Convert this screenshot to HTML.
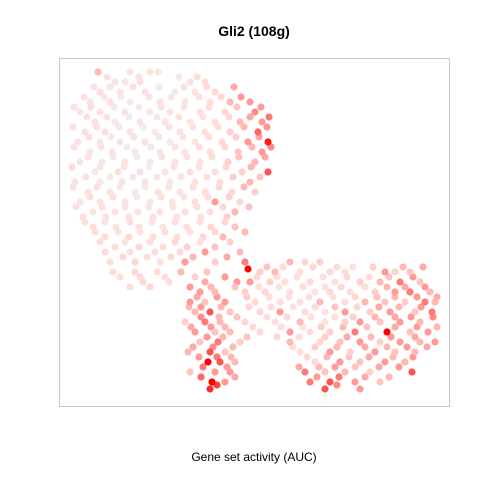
<!DOCTYPE html>
<html><head><meta charset="utf-8"><style>
body{margin:0;background:#fff;font-family:"Liberation Sans",sans-serif}
svg{display:block}
</style></head><body>
<svg id="chart" width="480" height="480">
<rect x="0" y="0" width="480" height="480" fill="#fff"/>
<text x="254" y="36" text-anchor="middle" font-size="14" font-weight="bold" fill="#000">Gli2 (108g)</text>
<rect x="59.5" y="58.5" width="390" height="348" fill="none" stroke="#c8c8c8" stroke-width="1"/>
<g id="pts"></g>
<text x="254" y="461" text-anchor="middle" font-size="12" fill="#000">Gene set activity (AUC)</text>
</svg>
<script>
const rowY=[16.4,15.4,14.4,13.4,12.4,11.4,10.4,9.4,8.4,7.4,6.4,5.4,4.4,3.4,2.4,1.4,0.4,-0.6,-1.6,-2.6,-3.3,-4.1,-5.1,
-2.6,-3.6,-4.6,-5.6,-6.6,-7.6,-8.6,-9.6,-10.6,-11.6,-12.6,-13.6,-14.6,-15.3];
const rowX=[
[-16.1,-12.9,-10.9,-10.1],
[-14.4,-13.4,-11.9,-6.9,-5.4],
[-15.9,-13.9,-11.4,-8.4,-6.4,-4.4],
[-16.9,-14.9,-12.9,-9.9,-7.4,-4.9,-2.9,-0.9],
[-17.9,-15.9,-13.4,-10.9,-8.9,-5.9,-3.4,-0.4],
[-16.4,-14.4,-11.9,-9.4,-6.9,-4.4,-1.9,0.3],
[-17.4,-15.4,-12.9,-10.4,-7.9,-5.4,-2.9,-0.1],
[-18.1,-15.9,-13.9,-11.4,-8.9,-6.4,-3.7,-1.1,0.9],
[-16.9,-14.7,-12.4,-9.9,-7.4,-4.9,-2.1,0.3],
[-17.9,-15.7,-13.4,-10.9,-8.4,-5.9,-3.1,-0.4],
[-16.4,-14.1,-11.9,-9.4,-6.9,-4.4,-1.7,0.9],
[-18.4,-15.9,-13.7,-11.4,-8.9,-6.4,-3.9,-0.9],
[-17.1,-14.9,-12.4,-10.1,-7.9,-5.4,-2.7,-0.4],
[-17.9,-15.9,-13.4,-10.9,-8.7,-6.4,-4.4,-1.9],
[-16.6,-14.4,-12.1,-9.9,-7.4,-4.9,-2.4],
[-17.4,-15.4,-12.9,-10.7,-8.4,-5.9,-3.4],
[-16.4,-14.1,-11.9,-9.4,-6.9,-4.4,-1.4],
[-15.9,-13.4,-10.9,-8.4,-5.9,-2.9],
[-15.4,-12.9,-10.4,-7.9,-5.4,-1.9],
[-14.9,-12.4,-9.9,-7.4,-4.4,-1.4],
[-1.1],
[-13.9,-11.9,-9.4,-6.4,-3.4],
[-12.9,-10.9,-6.9],
[3.1,4.6,6.1],
[0.1,1.6,4.1,7.1,8.6,12.6,13.6,15.1],
[-0.9,1.1,2.6,5.1,7.6,10.1,12.1,14.1,16.1],
[-5.9,-4.4,-1.4,0.6,3.1,5.6,7.1,9.1,11.6,13.6,15.1,17.1],
[-6.9,-5.4,-3.4,-0.4,2.1,4.1,6.1,8.6,10.6,12.6,14.6,16.6,17.6],
[-6.4,-4.9,-2.9,0.1,2.1,4.6,6.6,8.6,11.1,13.1,15.6,17.3],
[-7.4,-5.4,-3.9,-1.4,1.6,4.1,6.6,8.6,10.1,12.1,14.1,16.1],
[-6.4,-4.4,-2.9,0.1,3.1,5.1,7.1,9.6,12.8,15.1,16.9],
[-5.9,-4.1,-1.9,3.1,6.1,8.1,10.1,12.1,14.1,16.1,17.6],
[-7.1,-4.9,-3.4,4.1,7.1,9.1,11.6,13.6,15.6],
[-5.1,-3.9,-2.4,5.6,8.1,10.1,12.6,14.6],
[-6.9,-4.4,-2.9,4.6,6.6,8.6,11.1,15.3],
[-4.7,-3.4,5.1,7.1,9.6,12.1],
[-4.9,6.6,10.1]];
const rowV=[
[.5,.2,.25,.15],
[.2,.1,.25,.2,.3],
[.25,.15,.2,.1,.25,.35],
[.2,.25,.1,.2,.15,.3,.5,.6],
[.15,.25,.2,.1,.25,.3,.35,.65],
[.25,.1,.2,.25,.15,.3,.5,.6],
[.2,.25,.15,.1,.2,.3,.4,.75],
[.25,.1,.2,.25,.15,.25,.35,.6,.95],
[.15,.25,.1,.2,.25,.3,.45,.6],
[.2,.15,.25,.1,.2,.25,.4,.5],
[.1,.25,.2,.15,.25,.3,.4,.8],
[.2,.1,.25,.2,.15,.25,.3,.5],
[.25,.2,.1,.25,.2,.3,.35,.4],
[.15,.25,.2,.1,.25,.3,.6,.35],
[.2,.25,.15,.25,.2,.3,.5],
[.25,.2,.3,.15,.25,.3,.35],
[.3,.25,.2,.3,.25,.35,.5],
[.3,.25,.3,.35,.3,.4],
[.3,.25,.3,.35,.6,.5],
[.3,.35,.3,.6,.4,.7],
[1.0],
[.3,.35,.3,.4,.6],
[.3,.35,.6],
[.5,.35,.4],
[.4,.5,.3,.35,.3,.6,.4,.45],
[.6,.4,.3,.35,.3,.4,.5,.7,.45],
[.6,.5,.4,.35,.3,.25,.35,.3,.4,.6,.7,.5],
[.6,.45,.6,.35,.3,.25,.5,.3,.5,.45,.4,.7,.5],
[.5,.8,.45,.35,.6,.3,.25,.6,.4,.6,.45,.7],
[.4,.7,.5,.35,.3,.5,.25,.4,.6,.45,.6,.5],
[.6,.45,.5,.35,.6,.3,.4,.7,1.0,.45,.6],
[.45,.7,.4,.5,.35,.45,.6,.4,.6,.5,.6],
[.5,.8,.45,.3,.6,.4,.6,.45,.5],
[1.0,.8,.5,.35,.6,.45,.6,.5],
[.45,.6,.6,.7,.45,.5,.4,.8],
[1.0,.6,.7,.8,.6,.45],
[.9,.8,.6]];
const row2Y=[15.9,14.9,13.9,12.9,11.9,10.9,9.9,8.9,7.9,6.9,5.9,4.9,3.9,2.9,1.9,0.9,-0.1,-1.1,-2.1,-3.6,-4.6,
-3.1,-4.1,-5.1,-6.1,-7.1,-8.1,-9.1,-10.1,-11.1,-12.1,-13.1,-14.1,-14.9];
const row2X=[
[-15.2,-12,-8,-6.2],
[-16.5,-14.9,-12.6,-10,-7.5,-5.2,-2.5],
[-17.5,-15.5,-13.8,-11,-8.8,-6,-3.8,-1.8],
[-18.5,-16.8,-14.5,-12,-9.8,-7.5,-5,-2.2,0.2],
[-17.2,-15.2,-13,-10.2,-8,-5.6,-3,-0.9,1],
[-18.6,-16.2,-14,-11.6,-9,-6.6,-4.1,-1.5,0.8],
[-17,-14.8,-12.5,-10,-7.6,-5,-2.3,0],
[-18.5,-15.8,-13.2,-10.8,-8.4,-6,-3.4,-0.7,1.2],
[-17.1,-14.6,-12.2,-9.7,-7.2,-4.7,-2,0.6],
[-18.7,-15.9,-13.5,-11,-8.5,-6,-3.3,-0.8],
[-17.3,-14.9,-12.6,-10.2,-7.8,-5.2,-2.6,0.1],
[-18.6,-16.2,-13.9,-11.4,-9,-6.6,-4,-1.5],
[-16.9,-14.6,-12.2,-9.8,-7.5,-5.1,-3],
[-18.3,-15.7,-13.4,-11,-8.6,-6.2,-3.6,-1],
[-17.6,-15.3,-13,-10.6,-8.2,-5.8,-3.2],
[-16.6,-14.3,-12,-9.6,-7.2,-4.8,-2.4],
[-15.4,-13,-10.6,-8.2,-5.6,-3.6],
[-14.4,-12,-9.6,-7.2,-4.4],
[-13.6,-11.2,-8.8,-6.6,-3.2],
[-14.6,-12.4,-10.2,-7.8,-5.2],
[-11.6,-9,-5.4,-2.2],
[0.8,2.4,5.4,7.8,9.4,11.4,14.4,16.4],
[-0.2,1.8,3.8,6.4,8.8,11,13,15.4],
[-4.8,-2.4,0,2,4.4,6.6,8.2,10.6,12.8,14.6,16.6],
[-6.2,-4.2,-1.2,1,3,5,7.4,9.6,11.8,13.6,15.8,17.8],
[-7,-5.8,-3.8,-1,1.2,3.4,5.6,7.6,9.8,12,14,16.2],
[-5.8,-4,-2.2,0.8,2.8,5.2,7.6,9.4,11.6,13.6,15.2,17.4],
[-6.8,-4.8,-3.4,-0.6,2.2,4.4,6.2,8.4,10.8,13.6,15.8,17.8],
[-5.2,-3.6,-1.2,1.8,4,6.6,8.8,11.2,13.2,15.6],
[-6.6,-4.6,-2.6,3.4,5.6,7.8,10.6,12.8,14.8,16.8],
[-6,-4.2,-2.8,4.8,6.8,9,11,13.4,15.4],
[-5.6,-3.2,4,6,7.6,9.6,12,14],
[-5.8,-2.4,5.8,8,10.6,13],
[-4.2,7.8]];
const row2V=[
[.25,.2,.1,.3],
[.2,.1,.25,.05,.2,.3,.55],
[.25,.2,.05,.2,.1,.25,.35,.6],
[.2,.3,.1,.05,.2,.25,.3,.45,.6],
[.25,.2,.05,.1,.25,.2,.35,.55,.7],
[.2,.25,.1,.05,.2,.25,.3,.5,.6],
[.3,.05,.2,.1,.25,.3,.4,.55],
[.2,.25,.05,.1,.2,.3,.35,.5,.65],
[.25,.1,.05,.2,.25,.3,.45,.55],
[.3,.2,.1,.05,.25,.2,.35,.5],
[.25,.05,.2,.1,.25,.3,.4,.45],
[.2,.25,.1,.05,.2,.3,.35,.5],
[.3,.2,.1,.25,.2,.3,.4],
[.25,.3,.2,.1,.25,.3,.35,.45],
[.3,.25,.2,.3,.25,.3,.4],
[.3,.25,.3,.25,.3,.35,.45],
[.3,.35,.3,.3,.35,.5],
[.3,.35,.3,.4,.45],
[.35,.3,.35,.5,.55],
[.3,.35,.3,.5,.45],
[.35,.3,.55,.6],
[.45,.3,.35,.3,.25,.4,.5,.55],
[.35,.3,.25,.3,.35,.3,.45,.6],
[.5,.45,.3,.25,.3,.25,.35,.3,.5,.55,.6],
[.55,.6,.4,.3,.25,.3,.25,.35,.45,.5,.6,.55],
[.5,.6,.5,.35,.3,.25,.3,.45,.35,.55,.5,.6],
[.65,.5,.45,.3,.35,.25,.3,.4,.5,.55,.6,.65],
[.55,.6,.5,.35,.3,.25,.4,.5,.45,.55,.6,.5],
[.6,.5,.45,.35,.3,.4,.55,.5,.6,.55],
[.55,.65,.5,.3,.4,.5,.55,.5,.6,.55],
[.6,.7,.5,.35,.5,.45,.55,.5,.6],
[.7,.6,.55,.5,.6,.45,.55,.6],
[.75,.55,.6,.7,.55,.5],
[.85,.65]];
const xDomain=[-20,19], yDomain=[-17,17.8];
const px0=59,px1=449,py0=406,py1=58;
function sx(x){return px0+(x-xDomain[0])/(xDomain[1]-xDomain[0])*(px1-px0);}
function sy(y){return py0-(y-yDomain[0])/(yDomain[1]-yDomain[0])*(py0-py1);}
function col(v){
  let r,g,b;
  if(v<0.3){const t=v/0.3;r=238+(255-238)*t;g=238+(222-238)*t;b=238+(218-238)*t;}
  else{const t=Math.pow(Math.min(1,(v-0.3)/0.7),1.4);r=255;g=222*(1-t);b=218*(1-t);}
  return `rgb(${Math.round(r)},${Math.round(g)},${Math.round(b)})`;
}
const layer=document.getElementById('pts');
const NS='http://www.w3.org/2000/svg';
function drawRows(ys,xs,vs){
  for(let i=0;i<ys.length;i++){
    for(let j=0;j<xs[i].length;j++){
      const c=document.createElementNS(NS,'circle');
      c.setAttribute('cx',sx(xs[i][j]).toFixed(1));
      c.setAttribute('cy',sy(ys[i]).toFixed(1));
      c.setAttribute('r','3.6');
      c.setAttribute('fill',col(vs[i][j]));
      
      
      layer.appendChild(c);
    }
  }
}
drawRows(row2Y,row2X,row2V);
drawRows(rowY,rowX,rowV);
</script>
</body></html>
